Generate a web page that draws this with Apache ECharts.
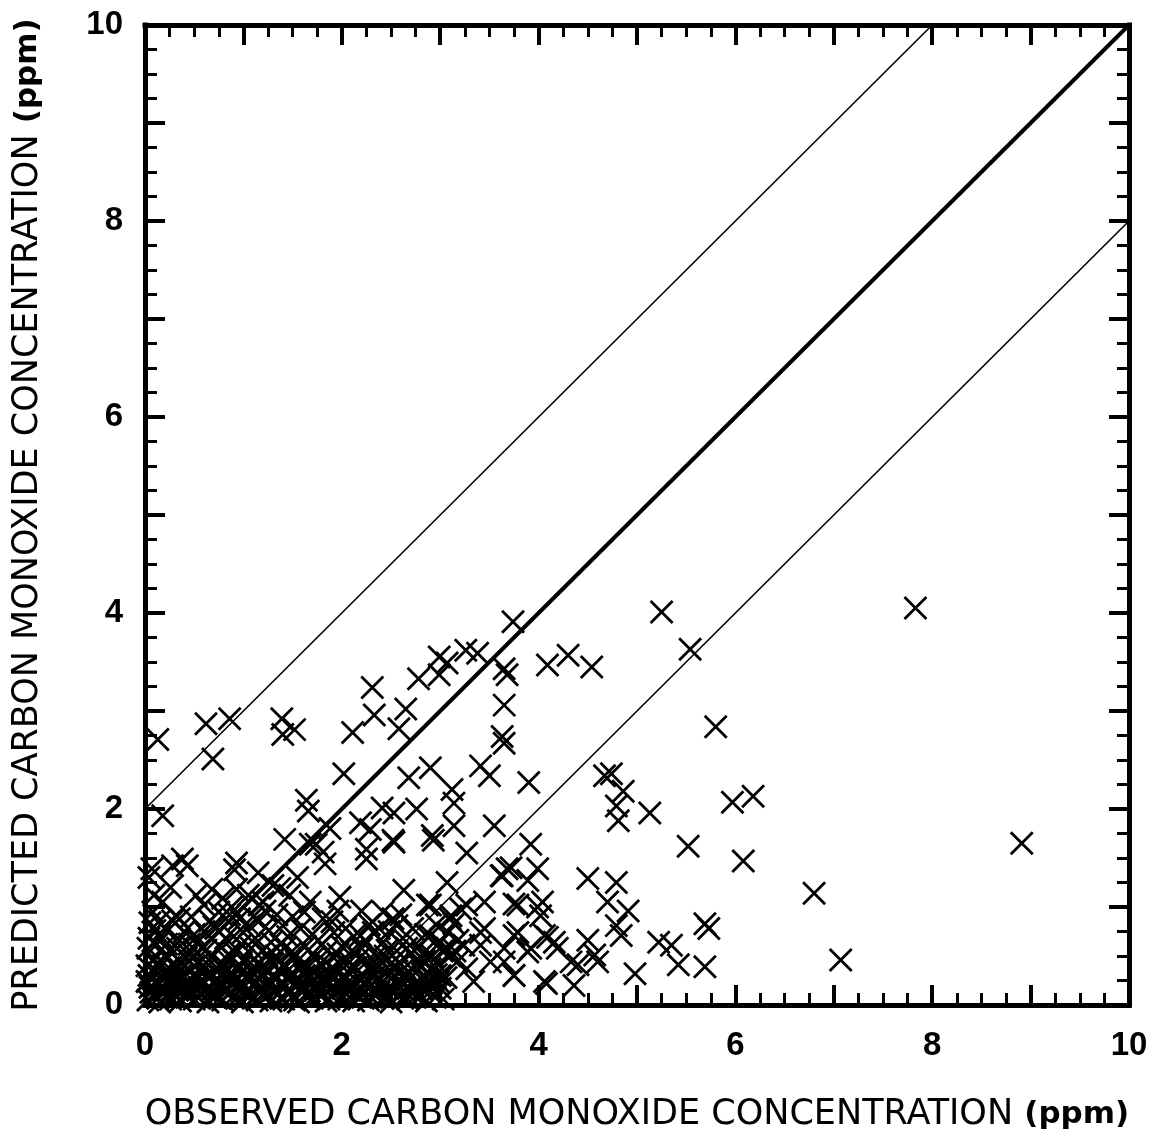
<!DOCTYPE html>
<html><head><meta charset="utf-8">
<script src="https://cdn.jsdelivr.net/npm/echarts@6/dist/echarts.min.js"></script>
<style>html,body{margin:0;padding:0;background:#fff}#c{width:1170px;height:1147px}</style>
</head><body><div id="c"></div>
<script>
// ---- tick labels ----
const xTickLabels = ['0', '2', '4', '6', '8', '10'];
const yTickLabels = ['0', '2', '4', '6', '8', '10'];
const xTitleMain = 'OBSERVED CARBON MONOXIDE CONCENTRATION';
const yTitleMain = 'PREDICTED CARBON MONOXIDE CONCENTRATION';
const unitText = '(ppm)';

// ---- reference lines ----
const identityLine = [[0, 0], [10, 10]];
const upperLine = [[0, 2], [8, 10]];
const lowerLine = [[2, 0], [10, 8]];

// ---- observed vs predicted points (observed, predicted) ----
const highPts = [
  [7.83, 4.05], [5.25, 4.01], [5.54, 3.63], [5.80, 2.84], [8.91, 1.65], [6.80, 1.14], [7.07, 0.46],
  [5.97, 2.07], [6.18, 2.13], [6.08, 1.47], [5.52, 1.62], [5.13, 1.96],
  [3.74, 3.91], [3.26, 3.62], [3.38, 3.59], [3.07, 3.49], [3.68, 3.37], [3.65, 3.43], [3.65, 3.06],
  [3.63, 2.74], [3.65, 2.67], [3.41, 2.44], [3.50, 2.34], [3.90, 2.27],
  [4.09, 3.47], [4.30, 3.57], [4.54, 3.45],
  [4.67, 2.34], [4.74, 2.36], [4.86, 2.18], [4.79, 2.03], [4.81, 1.88],
  [2.31, 3.24], [2.33, 2.96], [2.11, 2.78], [2.78, 3.33], [2.99, 3.55], [2.99, 3.37], [2.65, 3.02], [2.58, 2.82],
  [0.62, 2.87], [0.86, 2.92], [0.69, 2.51], [0.13, 2.71], [1.39, 2.92], [1.40, 2.76], [1.52, 2.81],
  [2.02, 2.36], [2.68, 2.32], [2.90, 2.42], [3.12, 2.20], [3.14, 2.06],
  [1.64, 2.09], [1.66, 1.98], [2.41, 2.01], [2.53, 1.96], [2.76, 2.00], [2.19, 1.86], [2.29, 1.79],
  [2.53, 1.66], [2.92, 1.73], [1.42, 1.69], [1.68, 1.64], [1.81, 1.56], [1.88, 1.80], [2.25, 1.59],
  [0.18, 1.93], [3.55, 1.83], [3.27, 1.55], [3.14, 1.83], [2.93, 1.68], [2.52, 1.68], [2.25, 1.49]
];

const midPts = [
  [0.38, 1.49], [0.43, 1.42], [0.28, 1.42], [0.93, 1.45], [0.91, 1.38], [0.07, 1.39], [0.04, 1.30],
  [0.09, 1.12], [0.52, 1.12], [0.79, 1.09], [0.93, 1.18], [1.37, 1.19], [1.47, 1.12], [1.68, 1.05],
  [1.98, 1.10], [2.63, 1.17], [3.07, 1.25], [1.16, 1.02], [0.79, 0.91], [1.06, 0.81], [1.40, 0.81],
  [1.81, 0.88], [2.32, 0.74], [2.52, 0.88], [2.87, 1.02], [3.11, 0.91], [0.31, 0.91], [0.35, 0.88],
  [0.72, 0.78], [0.96, 0.88], [0.14, 0.85], [0.04, 0.68], [0.10, 0.76],
  [1.74, 1.64], [1.83, 1.44], [3.63, 1.32], [3.72, 1.40], [3.99, 1.39], [3.68, 1.39], [3.62, 1.32],
  [3.92, 1.64], [3.75, 1.03], [3.99, 1.00], [2.90, 1.02], [3.27, 1.02], [2.42, 0.95], [3.10, 0.88],
  [3.41, 0.74], [3.75, 0.71], [4.06, 0.71], [4.19, 0.58], [3.92, 0.58], [3.65, 0.58], [3.24, 0.61],
  [2.90, 0.71], [2.56, 0.81], [2.19, 0.71], [4.33, 0.44], [4.06, 0.24], [3.75, 0.30], [3.34, 0.24],
  [3.00, 0.30], [2.77, 0.44], [3.17, 0.44], [3.51, 0.44],
  [4.50, 1.29], [4.79, 1.25], [4.70, 1.05], [4.91, 0.96], [4.79, 0.81], [4.84, 0.71],
  [5.69, 0.83], [5.73, 0.78], [5.22, 0.64], [5.35, 0.61], [5.42, 0.41], [5.69, 0.39], [4.98, 0.32],
  [4.50, 0.66], [4.57, 0.51], [4.40, 0.41], [4.36, 0.20], [4.60, 0.44],
  [4.09, 0.69], [4.16, 0.64], [4.02, 0.91], [4.04, 1.05], [3.79, 1.02], [3.79, 0.74], [3.89, 0.54],
  [4.08, 0.22], [3.75, 0.30], [3.45, 0.78], [3.41, 0.61], [3.65, 0.44], [3.27, 0.37], [3.21, 0.98],
  [3.89, 1.27], [3.45, 1.05], [3.14, 0.83], [3.07, 0.58],
  [0.45, 0.62], [0.60, 0.75], [0.75, 0.95], [0.88, 1.00], [1.05, 1.12], [1.20, 1.05], [1.30, 1.22], [1.10, 0.90],
  [0.05, 0.84], [0.12, 0.62], [0.20, 0.78], [0.25, 0.55], [0.35, 0.66], [0.42, 0.48], [0.50, 0.72],
  [0.58, 0.58], [0.70, 0.80], [0.76, 0.60], [0.85, 0.52], [0.90, 0.70], [0.98, 0.62], [1.12, 0.68],
  [1.20, 0.56], [1.26, 0.76], [1.33, 0.50], [1.38, 0.62], [1.45, 0.70], [1.52, 0.52], [1.58, 0.78],
  [1.63, 0.60], [1.76, 0.66], [1.85, 0.55], [1.92, 0.74], [2.00, 0.60], [2.12, 0.70], [2.20, 0.58],
  [2.28, 0.82], [2.35, 0.50], [2.42, 0.64], [2.48, 0.75], [2.56, 0.55], [2.62, 0.68], [2.78, 0.60],
  [2.85, 0.72], [2.92, 0.50], [3.00, 0.64], [3.15, 0.55],
  [0.03, 0.58], [0.08, 0.95], [0.16, 0.70], [0.22, 0.62], [0.28, 0.86], [0.33, 0.58], [0.40, 0.75],
  [0.47, 0.90], [0.54, 0.65], [0.62, 0.56], [0.66, 0.86], [0.82, 0.68], [0.86, 0.92], [1.00, 0.74],
  [1.08, 0.58], [1.16, 0.86], [1.28, 0.64], [1.34, 0.92], [1.42, 0.58], [0.18, 1.05], [0.26, 1.20],
  [0.60, 1.02], [0.68, 1.18], [1.22, 0.96], [1.50, 0.90], [1.62, 0.95], [1.70, 0.72], [1.55, 1.30],
  [1.15, 1.35],
  [1.80, 0.62], [1.90, 0.85], [2.04, 0.78], [2.10, 0.55], [2.24, 0.65], [2.38, 0.78], [2.46, 0.56],
  [2.60, 0.92], [2.66, 0.58], [2.72, 0.78], [2.82, 0.52], [2.96, 0.82], [3.02, 0.55], [3.08, 0.74],
  [3.18, 0.66], [2.20, 0.96], [1.96, 0.96]
];

const densePts = [
  [0.03, 0.05], [0.09, 0.10], [0.15, 0.03], [0.22, 0.08], [0.30, 0.12], [0.36, 0.04], [0.43, 0.09],
  [0.50, 0.06], [0.58, 0.11], [0.64, 0.03], [0.71, 0.08], [0.79, 0.05], [0.86, 0.12], [0.93, 0.07],
  [0.99, 0.03], [1.07, 0.10], [1.14, 0.05], [1.20, 0.09], [1.28, 0.04], [1.35, 0.11], [1.41, 0.06],
  [1.49, 0.08], [1.56, 0.03], [1.63, 0.10], [1.70, 0.07], [1.77, 0.12], [1.84, 0.04], [1.90, 0.09],
  [1.97, 0.06], [2.05, 0.11], [2.12, 0.04], [2.19, 0.08], [2.27, 0.05], [2.34, 0.10], [2.42, 0.07],
  [2.50, 0.03], [2.58, 0.09], [2.67, 0.06], [2.76, 0.10], [2.86, 0.04], [2.95, 0.08], [3.03, 0.06],
  [0.06, 0.13], [0.13, 0.07], [0.20, 0.14], [0.26, 0.06], [0.33, 0.15], [0.41, 0.11], [0.48, 0.14],
  [0.54, 0.08], [0.61, 0.15], [0.69, 0.11], [0.76, 0.07], [0.82, 0.14], [0.90, 0.09], [0.97, 0.15],
  [1.03, 0.11], [1.10, 0.07], [1.17, 0.13], [1.25, 0.10], [1.31, 0.15], [1.38, 0.07], [1.45, 0.12],
  [1.52, 0.05], [1.59, 0.14], [1.66, 0.09], [1.73, 0.15], [1.80, 0.10], [1.87, 0.06], [1.94, 0.13],
  [2.01, 0.08], [2.08, 0.15], [2.15, 0.11], [2.23, 0.14], [2.30, 0.08], [2.38, 0.13], [2.46, 0.10],
  [2.54, 0.14], [2.62, 0.07], [2.71, 0.13], [2.80, 0.09], [2.90, 0.14],
  [0.05, 0.18], [0.12, 0.22], [0.19, 0.15], [0.27, 0.20], [0.34, 0.24], [0.40, 0.16], [0.47, 0.21],
  [0.55, 0.18], [0.61, 0.23], [0.68, 0.15], [0.75, 0.20], [0.83, 0.17], [0.90, 0.22], [0.96, 0.19],
  [1.04, 0.14], [1.11, 0.21], [1.18, 0.17], [1.25, 0.23], [1.32, 0.16], [1.39, 0.20], [1.46, 0.15],
  [1.53, 0.22], [1.60, 0.18], [1.67, 0.14], [1.74, 0.21], [1.81, 0.17], [1.88, 0.23], [1.95, 0.15],
  [2.02, 0.19], [2.09, 0.22], [2.16, 0.16], [2.24, 0.20], [2.31, 0.14], [2.39, 0.21], [2.47, 0.17],
  [2.55, 0.23], [2.63, 0.15], [2.72, 0.20], [2.82, 0.16], [2.91, 0.22], [3.00, 0.17],
  [0.02, 0.24], [0.08, 0.27], [0.15, 0.22], [0.22, 0.29], [0.29, 0.25], [0.36, 0.30], [0.43, 0.24],
  [0.50, 0.29], [0.57, 0.25], [0.64, 0.28], [0.71, 0.23], [0.78, 0.29], [0.85, 0.25], [0.92, 0.27],
  [0.99, 0.23], [1.06, 0.28], [1.13, 0.24], [1.20, 0.30], [1.27, 0.25], [1.34, 0.27], [1.41, 0.22],
  [1.48, 0.28], [1.55, 0.25], [1.62, 0.30], [1.69, 0.24], [1.76, 0.28], [1.83, 0.23], [1.90, 0.29],
  [1.97, 0.25], [2.04, 0.27], [2.11, 0.22], [2.18, 0.28], [2.26, 0.25], [2.34, 0.30], [2.42, 0.24],
  [2.50, 0.27], [2.60, 0.23], [2.69, 0.27], [2.79, 0.22], [2.88, 0.26], [2.98, 0.24], [3.06, 0.28],
  [0.04, 0.30], [0.11, 0.35], [0.18, 0.28], [0.25, 0.33], [0.32, 0.37], [0.39, 0.29], [0.46, 0.34],
  [0.53, 0.27], [0.60, 0.36], [0.67, 0.31], [0.74, 0.26], [0.81, 0.35], [0.88, 0.30], [0.95, 0.37],
  [1.02, 0.28], [1.09, 0.33], [1.16, 0.27], [1.23, 0.36], [1.30, 0.30], [1.37, 0.34], [1.44, 0.27],
  [1.51, 0.32], [1.58, 0.37], [1.65, 0.29], [1.72, 0.34], [1.79, 0.26], [1.86, 0.31], [1.93, 0.36],
  [2.00, 0.28], [2.07, 0.33], [2.14, 0.38], [2.21, 0.30], [2.29, 0.35], [2.37, 0.27], [2.45, 0.32],
  [2.54, 0.36], [2.64, 0.29], [2.75, 0.33], [2.85, 0.27], [2.96, 0.31],
  [0.02, 0.40], [0.14, 0.42], [0.24, 0.38], [0.36, 0.44], [0.50, 0.40], [0.62, 0.43], [0.73, 0.38],
  [0.86, 0.44], [0.96, 0.40], [1.07, 0.43], [1.19, 0.39], [1.30, 0.42], [1.42, 0.38], [1.54, 0.44],
  [1.66, 0.39], [1.78, 0.42], [1.90, 0.38], [2.02, 0.43], [2.12, 0.39], [2.25, 0.44], [2.37, 0.39],
  [2.50, 0.42], [2.64, 0.38], [2.77, 0.42], [2.90, 0.37],
  [0.08, 0.45], [0.20, 0.50], [0.30, 0.42], [0.44, 0.52], [0.56, 0.44], [0.68, 0.49], [0.80, 0.41],
  [0.92, 0.53], [1.00, 0.46], [1.14, 0.42], [1.24, 0.50], [1.36, 0.44], [1.48, 0.53], [1.60, 0.41],
  [1.72, 0.49], [1.84, 0.43], [1.96, 0.52], [2.08, 0.44], [2.18, 0.48], [2.30, 0.41], [2.44, 0.50],
  [2.58, 0.43], [2.70, 0.52], [2.84, 0.45], [2.98, 0.41], [3.10, 0.50]
];

const allPts = highPts.concat(midPts, densePts);

const chart = echarts.init(document.getElementById('c'), null, { renderer: 'canvas' });
const labelFmt = (labels) => (v) => {
  const s = String(Math.round(v));
  return (Math.round(v) % 2 === 0 && labels.indexOf(s) >= 0) ? s : '';
};
const boxLine = { show: true, onZero: false, lineStyle: { color: '#000', width: 5, cap: 'square' } };
const majorTick = { show: true, inside: true, length: 20, lineStyle: { color: '#000', width: 4 } };
const minorTick = { show: true, splitNumber: 4, length: 12, lineStyle: { color: '#000', width: 3 } };
const tickFont = { fontSize: 33, fontWeight: 'bold', color: '#000', fontFamily: 'Liberation Sans, Arial, sans-serif' };
const titleRich = {
  a: { fontSize: 35, color: '#000', fontFamily: 'DejaVu Sans, sans-serif' },
  b: { fontSize: 31, color: '#000', fontWeight: 'bold', fontFamily: 'DejaVu Sans, sans-serif' }
};

chart.setOption({
  animation: false,
  backgroundColor: '#fff',
  grid: { left: 145, top: 25, width: 984, height: 980, containLabel: false },
  xAxis: [
    { type: 'value', position: 'bottom', min: 0, max: 10, interval: 1,
      axisLine: boxLine, axisTick: majorTick, minorTick: minorTick, splitLine: { show: false },
      axisLabel: Object.assign({ formatter: labelFmt(xTickLabels), margin: 24 }, tickFont),
      name: '{a|' + xTitleMain + ' }{b|' + unitText + '}', nameLocation: 'middle', nameGap: 92,
      nameTextStyle: { rich: titleRich } },
    { type: 'value', position: 'top', min: 0, max: 10, interval: 1,
      axisLine: boxLine, axisTick: majorTick, minorTick: minorTick, splitLine: { show: false },
      axisLabel: { show: false } }
  ],
  yAxis: [
    { type: 'value', position: 'left', min: 0, max: 10, interval: 1,
      axisLine: boxLine, axisTick: majorTick, minorTick: minorTick, splitLine: { show: false },
      axisLabel: Object.assign({ formatter: labelFmt(yTickLabels), margin: 22 }, tickFont),
      name: '{a|' + yTitleMain + ' }{b|' + unitText + '}', nameLocation: 'middle', nameRotate: 90, nameGap: 100,
      nameTextStyle: { rich: titleRich } },
    { type: 'value', position: 'right', min: 0, max: 10, interval: 1,
      axisLine: boxLine, axisTick: majorTick, minorTick: minorTick, splitLine: { show: false },
      axisLabel: { show: false } }
  ],
  series: [
    { type: 'line', data: identityLine, symbol: 'none', silent: true,
      lineStyle: { color: '#000', width: 4 }, z: 3 },
    { type: 'line', data: upperLine, symbol: 'none', silent: true,
      lineStyle: { color: '#000', width: 1.6 }, z: 3 },
    { type: 'line', data: lowerLine, symbol: 'none', silent: true,
      lineStyle: { color: '#000', width: 1.6 }, z: 3 },
    { type: 'scatter', data: allPts, silent: true, clip: false,
      symbol: 'path://M0,0L10,10M10,0L0,10', symbolSize: 22,
      itemStyle: { color: 'rgba(0,0,0,0)', borderColor: '#000', borderWidth: 2.8, opacity: 1 }, z: 4 }
  ]
});
</script>
</body></html>
